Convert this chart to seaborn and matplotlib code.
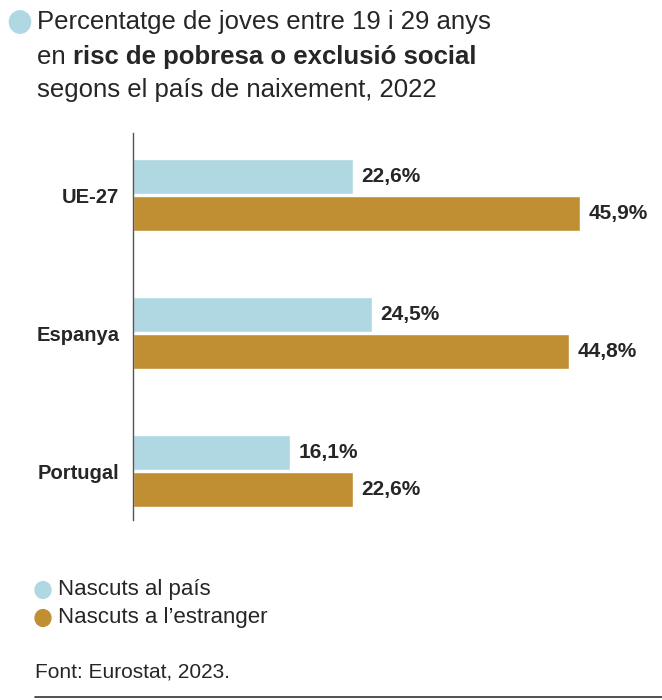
import pandas as pd
import seaborn as sns
import matplotlib.pyplot as plt
from matplotlib.patches import Circle
from matplotlib.lines import Line2D

countries = ["UE-27", "Espanya", "Portugal"]
natius = [22.6, 24.5, 16.1]
estrangers = [45.9, 44.8, 22.6]
groups = ["Nascuts al país", "Nascuts a l’estranger"]
colors = ["#afd8e2", "#c18f33"]

df = pd.DataFrame({
    "pais": countries * 2,
    "valor": natius + estrangers,
    "grup": [groups[0]] * 3 + [groups[1]] * 3,
})

sns.set_style("white")
plt.rcParams["font.family"] = ["Liberation Sans", "DejaVu Sans"]

fig = plt.figure(figsize=(6.62, 7.0), dpi=100)
ax = fig.add_axes([0.201, 0.257, 0.799, 0.553])
sns.barplot(data=df, y="pais", x="valor", hue="grup", palette=colors,
            width=0.54, gap=0.06, legend=False, ax=ax, saturation=1)
ax.set_xlim(0, 54.3)
ax.set_ylim(2.355, -0.45)
for c in ax.containers:
    ax.bar_label(c, labels=[f"{v:.1f}%".replace(".", ",") for v in c.datavalues],
                 padding=6, fontsize=15, fontweight="bold")
ax.set_xlabel("")
ax.set_ylabel("")
ax.set_xticks([])
ax.tick_params(axis="y", length=0, pad=10, labelsize=14.5)
for t in ax.get_yticklabels():
    t.set_fontweight("bold")
for s in ["top", "right", "bottom"]:
    ax.spines[s].set_visible(False)
ax.spines["left"].set_color("#555555")
ax.spines["left"].set_linewidth(1)

# title
fig.patches.append(Circle((20 / 662, 1 - 22 / 700), 0.016, transform=fig.transFigure,
                          color=colors[0]))
fs = 18.5
fig.text(37 / 662, 1 - 22 / 700, "Percentatge de joves entre 19 i 29 anys", fontsize=fs, va="center")
t1 = fig.text(37 / 662, 1 - 57 / 700, "en ", fontsize=fs, va="center")
fig.canvas.draw()
bb = t1.get_window_extent()
fig.text(bb.x1 / 662, 1 - 57 / 700, "risc de pobresa o exclusió social", fontsize=fs,
         va="center", fontweight="bold")
fig.text(37 / 662, 1 - 90 / 700, "segons el país de naixement, 2022", fontsize=fs, va="center")

# legend
for i, (g, c) in enumerate(zip(groups, colors)):
    y = 1 - (590 + 28 * i) / 700
    fig.patches.append(Circle((43 / 662, y), 0.012, transform=fig.transFigure, color=c))
    fig.text(58 / 662, y, g, fontsize=16, va="center")

fig.text(35 / 662, 1 - 672 / 700, "Font: Eurostat, 2023.", fontsize=15, va="center")
fig.add_artist(Line2D([35 / 662, 1], [1 - 697 / 700] * 2, color="#333333", lw=1.2))

fig.savefig("out.png", dpi=100)
